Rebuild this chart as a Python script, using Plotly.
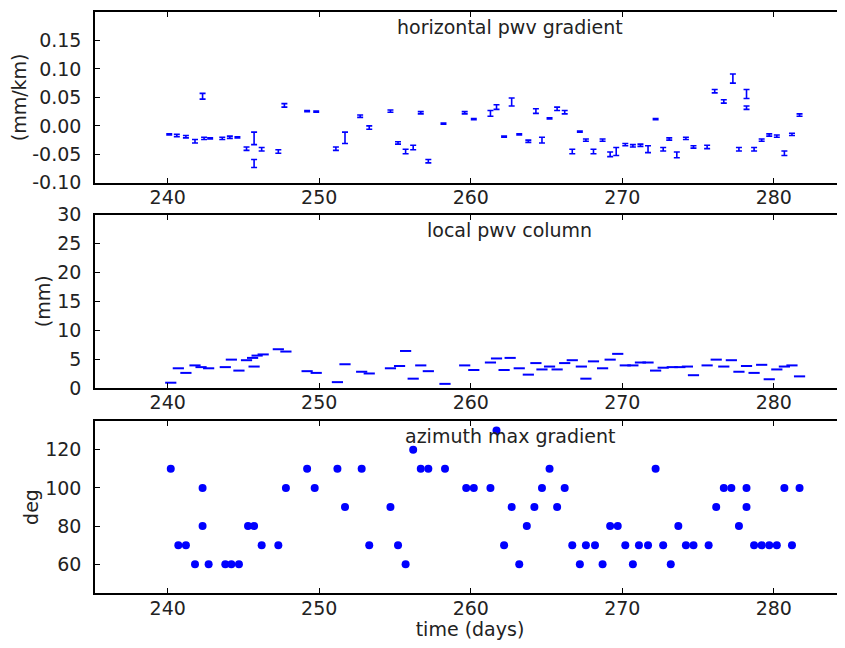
import plotly.graph_objects as go
from plotly.subplots import make_subplots

# ---- horizontal pwv gradient (mm/km) ----
grad_days = [240.1, 240.6, 241.2, 241.8, 242.3, 242.4, 242.8, 243.6, 244.1, 244.6,
             245.2, 245.7, 245.7, 246.2, 247.3, 247.7, 249.2, 249.8, 251.1, 251.7,
             252.7, 253.3, 254.7, 255.2, 255.7, 256.2, 256.7, 257.2, 258.2, 259.6,
             260.2, 261.3, 261.7, 262.7, 262.2, 263.2, 263.8, 264.3, 264.7, 265.2,
             265.7, 266.2, 266.7, 267.2, 267.6, 268.1, 268.7, 269.2, 269.6, 270.2,
             270.7, 271.2, 271.7, 272.2, 272.7, 273.1, 273.6, 274.2, 274.7, 275.6,
             276.1, 276.7, 277.3, 277.7, 278.2, 278.2, 278.7, 279.2, 279.7, 280.2,
             280.7, 281.2, 281.7]
grad_vals = [-0.015, -0.017, -0.019, -0.027, 0.052, -0.022, -0.022, -0.022, -0.020, -0.020,
             -0.040, -0.022, -0.066, -0.041, -0.045, 0.036, 0.026, 0.025, -0.040, -0.021,
             0.017, -0.003, 0.026, -0.030, -0.045, -0.038, 0.023, -0.062, 0.004, 0.023,
             0.012, 0.022, 0.033, 0.042, -0.019, -0.015, -0.027, 0.026, -0.025, 0.013,
             0.030, 0.024, -0.045, -0.010, -0.025, -0.045, -0.025, -0.050, -0.045, -0.033,
             -0.035, -0.034, -0.041, 0.012, -0.041, -0.023, -0.051, -0.022, -0.037, -0.037,
             0.061, 0.043, 0.083, -0.041, 0.056, 0.032, -0.041, -0.025, -0.016, -0.018,
             -0.048, -0.015, 0.019]
grad_errs = [0.001, 0.002, 0.002, 0.003, 0.005, 0.002, 0.001, 0.002, 0.002, 0.001,
             0.003, 0.011, 0.007, 0.003, 0.003, 0.003, 0.001, 0.001, 0.003, 0.010,
             0.002, 0.003, 0.002, 0.002, 0.004, 0.004, 0.002, 0.003, 0.001, 0.002,
             0.001, 0.005, 0.004, 0.007, 0.001, 0.001, 0.002, 0.004, 0.005, 0.001,
             0.003, 0.003, 0.004, 0.001, 0.002, 0.004, 0.002, 0.004, 0.007, 0.002,
             0.002, 0.002, 0.006, 0.001, 0.003, 0.002, 0.005, 0.002, 0.002, 0.003,
             0.003, 0.003, 0.008, 0.003, 0.008, 0.003, 0.003, 0.002, 0.002, 0.002,
             0.004, 0.002, 0.002]

# ---- local pwv column (mm) ----
pwv_days = [240.2, 240.7, 241.2, 241.8, 242.2, 242.7, 243.8, 244.2, 244.7, 245.2,
            245.6, 245.7, 245.9, 246.3, 247.3, 247.8, 249.2, 249.8, 251.2, 251.7,
            252.8, 253.3, 254.7, 255.3, 255.7, 256.2, 256.7, 257.2, 258.3, 259.6,
            260.2, 261.3, 261.7, 262.2, 262.6, 263.2, 263.8, 264.3, 264.7, 265.2,
            265.7, 266.2, 266.7, 267.3, 267.6, 268.1, 268.7, 269.2, 269.7, 270.2,
            270.7, 271.2, 271.7, 272.2, 272.7, 273.3, 273.8, 274.3, 274.7, 275.6,
            276.2, 276.7, 277.2, 277.7, 278.2, 278.7, 279.2, 279.7, 280.2, 280.7,
            281.2, 281.7]
pwv_vals = [0.9, 3.4, 2.6, 3.9, 3.6, 3.4, 3.6, 4.9, 3.0, 4.8,
            5.2, 3.7, 5.6, 5.8, 6.7, 6.3, 2.9, 2.6, 1.0, 4.1,
            2.8, 2.5, 3.4, 3.8, 6.4, 1.6, 3.9, 2.9, 0.7, 3.9,
            3.1, 4.4, 5.1, 3.1, 5.2, 3.4, 2.3, 4.3, 3.2, 3.7,
            3.2, 4.3, 4.8, 3.7, 1.6, 4.6, 3.4, 4.9, 5.9, 3.9,
            3.9, 4.4, 4.4, 3.0, 3.5, 3.6, 3.6, 3.7, 2.2, 3.9,
            4.9, 3.7, 4.8, 2.8, 3.8, 2.6, 4.0, 1.5, 3.2, 3.7,
            3.9, 2.0]

# ---- azimuth of max gradient (deg) ----
az_days = [240.2, 240.7, 241.2, 241.8, 242.3, 242.3, 242.7, 243.8, 244.2, 244.7,
           245.3, 245.7, 246.2, 247.3, 247.8, 249.2, 249.7, 251.2, 251.7, 252.8,
           253.3, 254.7, 255.2, 255.7, 256.2, 256.7, 257.2, 258.3, 259.7, 260.2,
           261.3, 261.7, 262.2, 262.7, 263.2, 263.7, 264.2, 264.7, 265.2, 265.7,
           266.2, 266.7, 267.2, 267.6, 268.2, 268.7, 269.2, 269.7, 270.2, 270.7,
           271.1, 271.7, 272.2, 272.7, 273.2, 273.7, 274.2, 274.7, 275.7, 276.2,
           276.7, 277.2, 277.7, 278.2, 278.2, 278.7, 279.2, 279.7, 280.2, 280.7,
           281.2, 281.7]
az_vals = [110, 70, 70, 60, 100, 80, 60, 60, 60, 60,
           80, 80, 70, 70, 100, 110, 100, 110, 90, 110,
           70, 90, 70, 60, 120, 110, 110, 110, 100, 100,
           100, 130, 70, 90, 60, 80, 90, 100, 110, 90,
           100, 70, 60, 70, 70, 60, 80, 80, 70, 60,
           70, 70, 110, 70, 60, 80, 70, 70, 70, 90,
           100, 100, 80, 100, 90, 70, 70, 70, 70, 100,
           70, 100]

x_ticks = [240, 250, 260, 270, 280]
grad_ticks = [-0.10, -0.05, 0.00, 0.05, 0.10, 0.15]
grad_tick_text = ["-0.10", "-0.05", "0.00", "0.05", "0.10", "0.15"]
pwv_ticks = [0, 5, 10, 15, 20, 25, 30]
az_ticks = [60, 80, 100, 120]

BLUE = "#0000ff"
FONT = "DejaVu Sans"
TXT = "#222222"
FS = 19

fig = make_subplots(rows=3, cols=1)

fig.add_trace(go.Scatter(
    x=grad_days, y=grad_vals, mode="markers",
    marker=dict(size=1, color="rgba(0,0,0,0)"),
    error_y=dict(type="data", array=grad_errs, width=3, thickness=1.6, color=BLUE),
    showlegend=False), row=1, col=1)

fig.add_trace(go.Scatter(
    x=pwv_days, y=pwv_vals, mode="markers",
    marker=dict(symbol="line-ew", size=8, line=dict(width=2, color=BLUE), color=BLUE),
    showlegend=False), row=2, col=1)

fig.add_trace(go.Scatter(
    x=az_days, y=az_vals, mode="markers",
    marker=dict(symbol="circle", size=8, color=BLUE),
    showlegend=False), row=3, col=1)

axis_common = dict(showline=True, linecolor="black", linewidth=1.5, mirror="allticks",
                   ticks="inside", ticklen=5, tickcolor="black", tickwidth=1,
                   showgrid=False, zeroline=False, automargin=False,
                   tickfont=dict(family=FONT, size=FS, color=TXT))

doms = [(0.706, 1.0), (0.353, 0.651), (0.0, 0.296)]
for i, d in enumerate(doms, start=1):
    fig.update_xaxes(range=[235.2, 284.7], tickvals=x_ticks, ticklabelstandoff=-3,
                     **axis_common, row=i, col=1)
    fig.update_yaxes(domain=list(d), ticklabelstandoff=8, **axis_common, row=i, col=1)

fig.update_yaxes(range=[-0.1, 0.2], tickvals=grad_ticks, ticktext=grad_tick_text,
                 title=dict(text="(mm/km)", font=dict(family=FONT, size=FS, color=TXT), standoff=2),
                 row=1, col=1)
fig.update_yaxes(range=[0, 30], tickvals=pwv_ticks,
                 title=dict(text="(mm)", font=dict(family=FONT, size=FS, color=TXT), standoff=2),
                 row=2, col=1)
fig.update_yaxes(range=[45, 135], tickvals=az_ticks,
                 title=dict(text="deg", font=dict(family=FONT, size=FS, color=TXT), standoff=2),
                 row=3, col=1)
fig.update_xaxes(title=dict(text="time (days)", font=dict(family=FONT, size=FS, color=TXT), standoff=0),
                 row=3, col=1)

panel_titles = ["horizontal pwv gradient", "local pwv column", "azimuth max gradient"]
for i, t in enumerate(panel_titles, start=1):
    yref = "y domain" if i == 1 else f"y{i} domain"
    xref = "x domain" if i == 1 else f"x{i} domain"
    fig.add_annotation(text=t, x=0.553, y=1.0, yshift=-2, xref=xref, yref=yref,
                       xanchor="center", yanchor="top", showarrow=False,
                       font=dict(family=FONT, size=FS, color=TXT))

# page body has an 8px margin, so the figure is sized to fit inside the window
fig.update_layout(width=837, height=632,
                  margin=dict(l=87, r=0, t=4, b=47),
                  paper_bgcolor="white", plot_bgcolor="white")

fig.write_html("out.html")
